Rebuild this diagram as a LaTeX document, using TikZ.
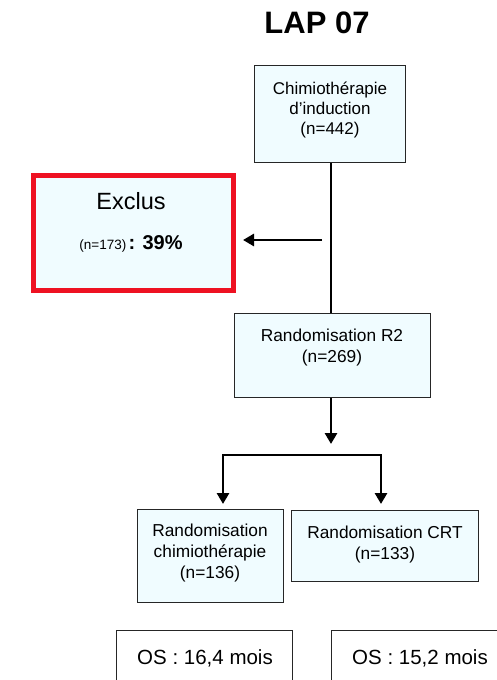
\documentclass[tikz,border=0pt]{standalone}
\usepackage{fontspec}
\setmainfont{Liberation Sans}
\usetikzlibrary{arrows.meta}
\definecolor{boxfill}{HTML}{F0FCFF}
\definecolor{exred}{HTML}{EE1122}
\tikzset{
  box/.style={draw=black!85, line width=1.3pt, fill=boxfill, align=center, inner sep=0pt},
  osbox/.style={draw=black!85, line width=1.3pt, fill=white, inner sep=0pt},
  txt/.style={font=\fontsize{17.3}{21}\selectfont, align=center},
  conn/.style={line width=2.8pt, -{Triangle[width=12pt,length=11pt]}},
  plain/.style={line width=2.8pt},
}
\begin{document}
\begin{tikzpicture}[x=1pt,y=-1pt]
\useasboundingbox[fill=white] (0,0) rectangle (496,680);
% title
\node[font=\fontsize{31}{33}\selectfont\bfseries] (title) at (317,23) {LAP 07};
% boxes
\node[box, minimum width=151pt, minimum height=97pt, anchor=north west] (ind) at (254,65) {};
\node[txt, font=\fontsize{17}{20}\selectfont] (indt) at (330,110) {Chimiothérapie\\d’induction\\(n=442)};
\node[draw=exred, line width=5.5pt, fill=boxfill, minimum width=200pt, minimum height=115pt,
      anchor=north west, inner sep=0pt] (excl) at (30.5,172.5) {};
\node[font=\fontsize{23.5}{26}\selectfont] (exT) at (131,201) {Exclus};
\node[anchor=base] (exN) at (131,249) {\fontsize{13.5}{15}\selectfont (n=173)\,\fontsize{20}{22}\selectfont\textbf{: 39\%}};
\node[box, minimum width=196pt, minimum height=84pt, anchor=north west] (r2) at (234,313) {};
\node[txt] (r2t) at (332,348) {Randomisation R2\\(n=269)};
\node[box, minimum width=146pt, minimum height=93pt, anchor=north west] (chim) at (137,509) {};
\node[txt] (chimt) at (210,553) {Randomisation\\chimiothérapie\\(n=136)};
\node[box, minimum width=187pt, minimum height=71pt, anchor=north west] (crt) at (291,510) {};
\node[txt] (crtt) at (385,545) {Randomisation CRT\\(n=133)};
\node[osbox, minimum width=176pt, minimum height=80pt, anchor=north west] (os1) at (116,630) {};
\node[font=\fontsize{20.5}{23}\selectfont] (os1t) at (205,658) {OS : 16,4 mois};
\node[osbox, minimum width=180pt, minimum height=80pt, anchor=north west] (os2) at (331,630) {};
\node[font=\fontsize{20.5}{23}\selectfont] (os2t) at (420,658) {OS : 15,2 mois};
% connectors
\coordinate (vtop) at (331,162);
\draw[plain] (ind.south -| vtop) -- (r2.north -| vtop);
\coordinate (aS) at (322,240);
\coordinate (aE) at (243,240);
\draw[conn] (aS) -- (aE);
\coordinate (d1) at (331,397);
\coordinate (d2) at (331,444);
\draw[conn] (r2.south -| d1) -- (d2);
\coordinate (bl) at (223,455);
\coordinate (br) at (381,455);
\coordinate (bl2) at (223,504);
\coordinate (br2) at (381,504);
\draw[plain, line cap=rect] (bl) -- (br);
\draw[conn] (bl) -- (bl2);
\draw[conn] (br) -- (br2);
\end{tikzpicture}
\end{document}
